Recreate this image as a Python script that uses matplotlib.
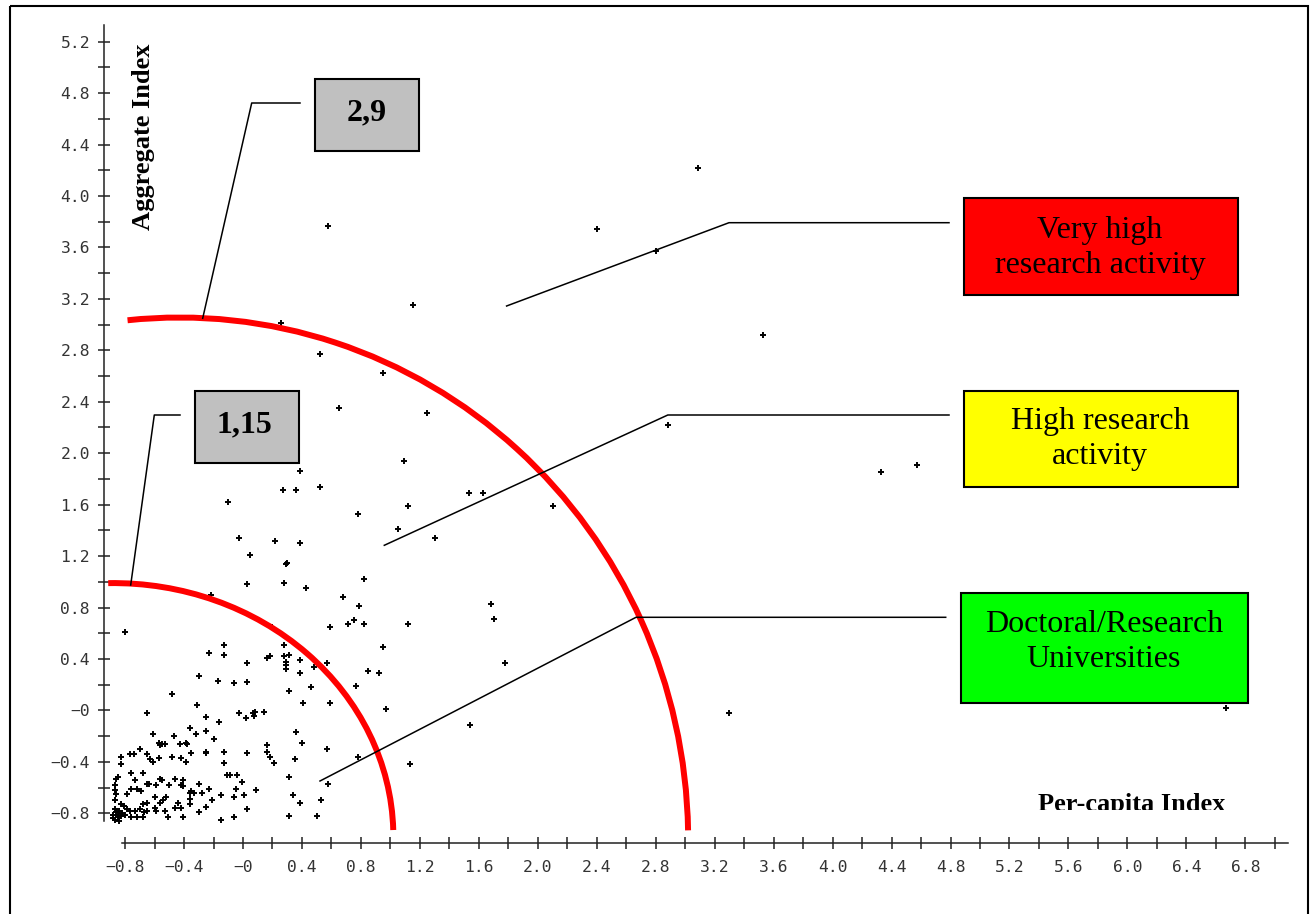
import matplotlib
matplotlib.use('Agg')
import matplotlib.pyplot as plt
import numpy as np
from matplotlib.patches import Arc, Rectangle
from matplotlib.transforms import Bbox

# Per-capita index (x) and aggregate index (y) of each institution
per_capita = [
    1.09, 0.39, 0.27, 0.36, 0.52, -0.10, 1.12, 0.78, 1.05, 1.30, -0.03, 0.22, 0.39, 0.05, 0.29,
    0.30, 0.28, 0.03, 0.43, 0.82, 0.68, 0.79, 0.71, 0.75, 0.82, 1.12, 0.59, 0.20, -0.80, -0.13,
    0.28, -0.23, -0.13, 0.16, 0.18, 0.28, 0.31, 0.39, 0.03, 0.57, 0.95, 0.29, 0.29, 0.29, 0.48,
    0.85, 0.92, -0.30, 0.39, -0.17, 0.03, -0.06, 0.46, 0.77, 0.31, -0.48, 0.41, 0.59, 0.97, -0.65,
    -0.31, -0.03, 0.07, 0.08, 0.075, 0.14, 0.02, -0.25, -0.16, -0.61, -0.25, -0.36, -0.32, -0.20, -0.47,
    -0.57, -0.55, -0.56, -0.53, -0.43, -0.39, -0.38, 0.36, 0.40, 0.16, 0.57, -0.35, -0.25, -0.25, -0.13,
    0.03, 0.16, 0.18, 0.21, 0.35, 0.78, 1.13, -0.83, -0.77, -0.74, -0.70, -0.65, -0.63, -0.61, -0.57,
    -0.48, -0.42, -0.39, -0.13, -0.83, 0.31, -0.11, -0.09, -0.04, -0.01, -0.76, -0.68, -0.86, -0.85, -0.73,
    -0.65, -0.64, -0.59, -0.56, -0.55, -0.46, -0.41, -0.42, -0.41, -0.50, -0.30, -0.23, -0.05, -0.36, -0.35,
    -0.33, -0.28, -0.15, -0.06, 0.01, 0.09, 0.34, 0.58, 0.53, 0.39, -0.87, -0.87, -0.86, -0.79, -0.76,
    -0.72, -0.69, -0.65, -0.68, -0.60, -0.54, -0.56, -0.52, -0.60, -0.44, -0.46, -0.42, -0.36, -0.21, -0.87,
    -0.83, -0.81, -0.79, -0.77, -0.73, -0.70, -0.67, -0.65, -0.85, -0.76, -0.72, -0.68, -0.59, -0.53, -0.51,
    -0.41, -0.30, -0.25, -0.15, -0.06, 0.03, 0.31, 0.50, -0.88, -0.88, -0.87, -0.85, -0.86, -0.83, -0.36,
    -0.22, -0.87, -0.84, -0.82, -0.80, -0.84,
    0.58, 0.26, 1.15, 0.52, 0.95, 0.65, 1.25, 2.40, 2.80, 3.09, 3.53, 2.88, 1.53, 1.63, 2.10,
    4.33, 4.57, 1.68, 1.70, 1.78, 1.54, 3.30, 6.67,
]
aggregate = [
    1.94, 1.86, 1.71, 1.71, 1.74, 1.62, 1.59, 1.53, 1.41, 1.34, 1.34, 1.32, 1.30, 1.21, 1.14,
    1.15, 0.99, 0.98, 0.95, 1.02, 0.88, 0.81, 0.67, 0.70, 0.67, 0.67, 0.65, 0.65, 0.61, 0.51,
    0.51, 0.45, 0.43, 0.41, 0.42, 0.42, 0.43, 0.39, 0.37, 0.37, 0.49, 0.35, 0.32, 0.38, 0.34,
    0.31, 0.29, 0.27, 0.29, 0.23, 0.22, 0.21, 0.18, 0.19, 0.15, 0.13, 0.06, 0.06, 0.01, -0.02,
    0.04, -0.02, -0.02, -0.01, -0.04, -0.01, -0.06, -0.05, -0.09, -0.18, -0.16, -0.14, -0.18, -0.22, -0.20,
    -0.25, -0.26, -0.27, -0.26, -0.26, -0.25, -0.26, -0.17, -0.25, -0.27, -0.30, -0.33, -0.32, -0.33, -0.32,
    -0.33, -0.32, -0.36, -0.41, -0.38, -0.36, -0.42, -0.36, -0.34, -0.34, -0.30, -0.34, -0.38, -0.40, -0.37,
    -0.36, -0.37, -0.40, -0.41, -0.42, -0.52, -0.50, -0.50, -0.50, -0.56, -0.49, -0.49, -0.53, -0.52, -0.54,
    -0.57, -0.57, -0.58, -0.53, -0.54, -0.53, -0.54, -0.58, -0.59, -0.58, -0.57, -0.61, -0.61, -0.64, -0.63,
    -0.64, -0.64, -0.66, -0.67, -0.66, -0.62, -0.66, -0.57, -0.70, -0.72, -0.58, -0.62, -0.65, -0.65, -0.61,
    -0.61, -0.63, -0.72, -0.73, -0.67, -0.70, -0.72, -0.67, -0.76, -0.72, -0.76, -0.76, -0.73, -0.70, -0.70,
    -0.73, -0.74, -0.77, -0.78, -0.78, -0.77, -0.79, -0.78, -0.81, -0.83, -0.83, -0.83, -0.78, -0.78, -0.83,
    -0.83, -0.79, -0.75, -0.85, -0.83, -0.77, -0.82, -0.82, -0.81, -0.84, -0.85, -0.83, -0.79, -0.82, -0.69,
    0.90, -0.77, -0.78, -0.80, -0.81, -0.86,
    3.77, 3.01, 3.15, 2.77, 2.62, 2.35, 2.31, 3.74, 3.57, 4.22, 2.92, 2.22, 1.69, 1.69, 1.59,
    1.85, 1.91, 0.83, 0.71, 0.37, -0.11, -0.02, 0.02,
]

x_tick_labels = ['\u22120.8', '\u22120.4', '\u22120', '0.4', '0.8', '1.2', '1.6', '2.0', '2.4', '2.8',
                 '3.2', '3.6', '4.0', '4.4', '4.8', '5.2', '5.6', '6.0', '6.4', '6.8']
y_tick_labels = ['\u22120.8', '\u22120.4', '\u22120', '0.4', '0.8', '1.2', '1.6', '2.0', '2.4', '2.8',
                 '3.2', '3.6', '4.0', '4.4', '4.8', '5.2']

# threshold ellipses (centre, width, height, start / end angle)
inner_arc = ((-0.88, -0.98), 3.80, 3.94, 1.5, 91.0)
outer_arc = ((-0.43, -1.005), 6.90, 8.12, 1.2, 95.0)

threshold_labels = ['2,9', '1,15']
class_labels = ['Very high\nresearch activity', 'High research\nactivity', 'Doctoral/Research\nUniversities']
class_colors = ['#ff0000', '#ffff00', '#00ff00']

W, H = 1312, 914
fig = plt.figure(figsize=(W / 100, H / 100), dpi=100)
fig.patch.set_facecolor('white')

# main axes: pixel <-> data mapping of the original picture
x0_px, x_scale = 243.0, 147.4
y0_px, y_scale = 710.4, 128.6
ax = fig.add_axes([0, 0, 1, 1])
ax.set_xlim(-x0_px / x_scale, (W - x0_px) / x_scale)
ax.set_ylim((y0_px - H) / y_scale, y0_px / y_scale)
ax.patch.set_alpha(0)

ax.spines[['top', 'right']].set_visible(False)
ax.spines['left'].set_position(('data', -0.943))
ax.spines['left'].set_bounds(-0.858, 5.33)
ax.spines['bottom'].set_position(('data', -1.031))
ax.spines['bottom'].set_bounds(-0.82, 7.09)
for s in ('left', 'bottom'):
    ax.spines[s].set_linewidth(1.1)
    ax.spines[s].set_color('#222222')

x_ticks = np.round(np.arange(-0.8, 7.01, 0.2), 1)
y_ticks = np.round(np.arange(-0.8, 5.21, 0.2), 1)
ax.set_xticks(x_ticks)
ax.set_yticks(y_ticks)
ax.set_xticklabels([x_tick_labels[i // 2] if i % 2 == 0 else '' for i in range(len(x_ticks))],
                   fontfamily='DejaVu Sans Mono', fontsize=11.8, color='#333333')
ax.set_yticklabels([y_tick_labels[i // 2] if i % 2 == 0 else '' for i in range(len(y_ticks))],
                   fontfamily='DejaVu Sans Mono', fontsize=11.8, color='#333333')
ax.tick_params(direction='inout', length=9, width=1.1, color='#222222')
ax.tick_params(axis='x', pad=8)
ax.tick_params(axis='y', pad=5.5)

ax.plot(per_capita, aggregate, '+', color='black', ms=4.5, mew=1.4, zorder=2)

for (c, w, h, t1, t2) in (inner_arc, outer_arc):
    ax.add_patch(Arc(c, w, h, theta1=t1, theta2=t2, color='#ff0000', lw=4.3, zorder=3))

# overlay in picture pixels for the annotation boxes
ov = fig.add_axes([0, 0, 1, 1], zorder=5)
ov.set_xlim(0, W)
ov.set_ylim(H, 0)
ov.axis('off')

ov.add_patch(Rectangle((10, 6), 1298, 920, fill=False, ec='black', lw=1.5, clip_on=False))

ov.text(143.5, 136.4, 'Aggregate Index', rotation=90, ha='center', va='center',
        fontsize=19, fontweight='bold', family='Liberation Serif')
t = ov.text(1038, 811, 'Per-capita Index', ha='left', va='baseline',
            fontsize=19, fontweight='bold', family='Liberation Serif')
t.set_clip_box(Bbox.from_extents(0, H - 809.5, W, H))
t.set_clip_on(True)

leaders = [
    [(300, 103), (251.7, 103), (202.7, 318.3)],
    [(180, 415), (154.3, 415), (130.7, 585)],
    [(949, 222.7), (729, 222.7), (506.6, 306)],
    [(949, 415), (667.8, 415), (384.3, 545.3)],
    [(945.7, 617.3), (636, 617.3), (320, 781)],
]
for pts in leaders:
    xs, ys = zip(*pts)
    ov.plot(xs, ys, color='black', lw=1.1)

gray_boxes = [(315, 78.7, 104.3, 72), (195, 390.7, 104.3, 72)]
gray_text_pos = [(367, 120), (244, 432.3)]
for (bx, by, bw, bh), (tx, ty), lab in zip(gray_boxes, gray_text_pos, threshold_labels):
    ov.add_patch(Rectangle((bx, by), bw, bh, fc='#c0c0c0', ec='black', lw=1.5))
    ov.text(tx, ty, lab, ha='center', va='baseline', fontsize=23, fontweight='bold',
            family='Liberation Serif')

class_boxes = [(964, 198.3, 274, 97), (964, 390.7, 274, 96.6), (960.7, 593.3, 287, 110)]
class_text_pos = [(1100, 248), (1100, 439), (1104, 642)]
for (bx, by, bw, bh), (tx, ty), lab, col in zip(class_boxes, class_text_pos, class_labels, class_colors):
    ov.add_patch(Rectangle((bx, by), bw, bh, fc=col, ec='black', lw=1.5))
    ov.text(tx, ty, lab, ha='center', va='center', fontsize=23, family='Liberation Serif',
            linespacing=1.25, multialignment='center')

fig.savefig('out.png', dpi=100)
